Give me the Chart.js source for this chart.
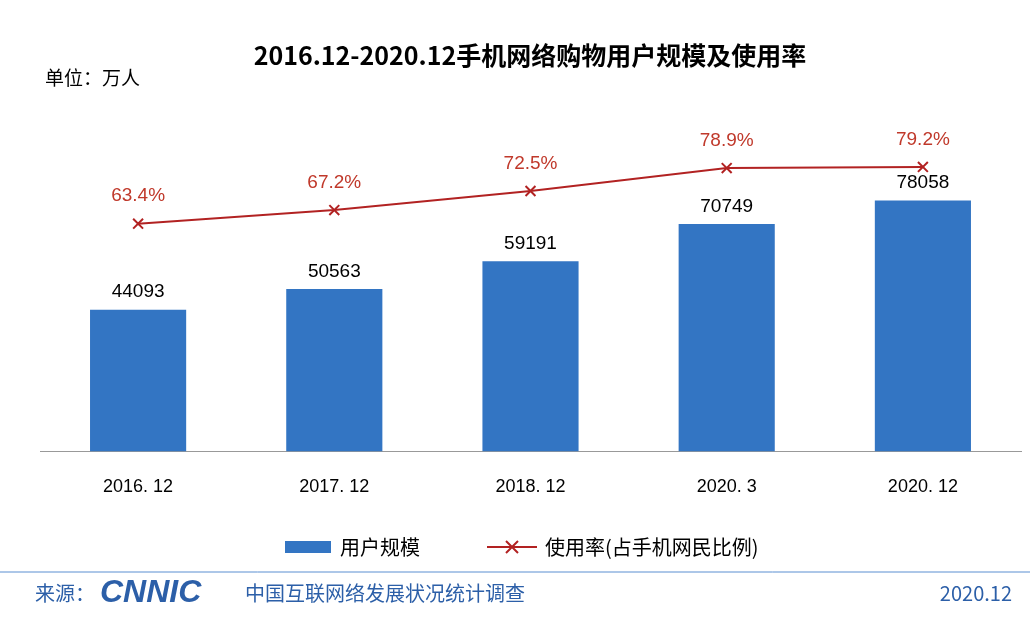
<!DOCTYPE html>
<html><head><meta charset="utf-8">
<script src="https://cdn.jsdelivr.net/npm/chart.js@4"></script>
<style>body{margin:0;background:#fff}#wrap{width:1030px;height:632px}</style>
</head><body><div id="wrap"><canvas id="c"></canvas></div>
<script>
const categories = ['2016. 12', '2017. 12', '2018. 12', '2020. 3', '2020. 12'];
const users = [44093, 50563, 59191, 70749, 78058];
const rates = [63.4, 67.2, 72.5, 78.9, 79.2];
const FONT = '"Noto Sans CJK SC", "Liberation Sans", sans-serif';

// labels, title, legend, footer
const extras = {
    id: 'extras',
    afterDatasetsDraw(chart) {
        const ctx = chart.ctx;
        ctx.save();
        ctx.textAlign = 'center';
        ctx.textBaseline = 'bottom';
        ctx.font = '19px "Liberation Sans", sans-serif';
        ctx.fillStyle = '#000';
        chart.getDatasetMeta(1).data.forEach((b, i) => {
            ctx.fillText(users[i], b.x, b.y - 8);
        });
        ctx.fillStyle = '#c0392b';
        chart.getDatasetMeta(0).data.forEach((p, i) => {
            ctx.fillText(rates[i].toFixed(1) + '%', p.x, p.y - 18);
        });
        // title
        ctx.fillStyle = '#000';
        ctx.font = 'bold 25px ' + FONT;
        ctx.textBaseline = 'middle';
        ctx.fillText('2016.12-2020.12手机网络购物用户规模及使用率', 530, 55);
        ctx.textAlign = 'left';
        ctx.font = '19px ' + FONT;
        ctx.fillText('单位：万人', 45, 78);
        // legend
        ctx.fillStyle = '#3375c3';
        ctx.fillRect(285, 541, 46, 12);
        ctx.fillStyle = '#000';
        ctx.font = '20px ' + FONT;
        ctx.fillText('用户规模', 340, 547);
        ctx.strokeStyle = '#b22222';
        ctx.lineWidth = 2;
        ctx.beginPath(); ctx.moveTo(487, 547); ctx.lineTo(537, 547); ctx.stroke();
        ctx.beginPath(); ctx.moveTo(506, 541); ctx.lineTo(518, 553); ctx.moveTo(518, 541); ctx.lineTo(506, 553); ctx.stroke();
        ctx.fillText('使用率(占手机网民比例)', 545, 547);
        // footer
        ctx.strokeStyle = '#5b8fd1';
        ctx.lineWidth = 1;
        ctx.beginPath(); ctx.moveTo(0, 572); ctx.lineTo(1030, 572); ctx.stroke();
        ctx.fillStyle = '#2c5fa8';
        ctx.font = '20px ' + FONT;
        ctx.fillText('来源：', 35, 593);
        ctx.font = 'bold italic 32px "Liberation Sans", sans-serif';
        ctx.fillText('CNNIC', 100, 593);
        ctx.font = '20px ' + FONT;
        ctx.fillText('中国互联网络发展状况统计调查', 245, 593);
        ctx.textAlign = 'right';
        ctx.fillText('2020.12', 1012, 593);
        ctx.restore();
    }
};

new Chart(document.getElementById('c'), {
    data: {
        labels: categories,
        datasets: [{
            type: 'line',
            label: '使用率',
            data: rates,
            yAxisID: 'y2',
            borderColor: '#b22222',
            borderWidth: 2,
            pointStyle: 'crossRot',
            pointRadius: 7,
            pointBorderWidth: 2,
            pointBorderColor: '#b22222',
            order: 0
        }, {
            type: 'bar',
            label: '用户规模',
            data: users,
            yAxisID: 'y',
            backgroundColor: '#3375c3',
            barPercentage: 0.49,
            categoryPercentage: 1,
            order: 1
        }]
    },
    options: {
        responsive: true,
        maintainAspectRatio: false,
        animation: false,
        layout: { padding: { top: 98, left: 40, right: 5, bottom: 117 } },
        plugins: { legend: { display: false }, tooltip: { enabled: false } },
        scales: {
            x: {
                grid: { display: false },
                border: { color: '#999' },
                ticks: { color: '#000', font: { size: 18, family: '"Liberation Sans", sans-serif' }, padding: 17 }
            },
            y: { display: false, min: 0, max: 110000 },
            y2: { display: false, min: 0, max: 98.4 }
        }
    },
    plugins: [extras]
});
</script></body></html>
